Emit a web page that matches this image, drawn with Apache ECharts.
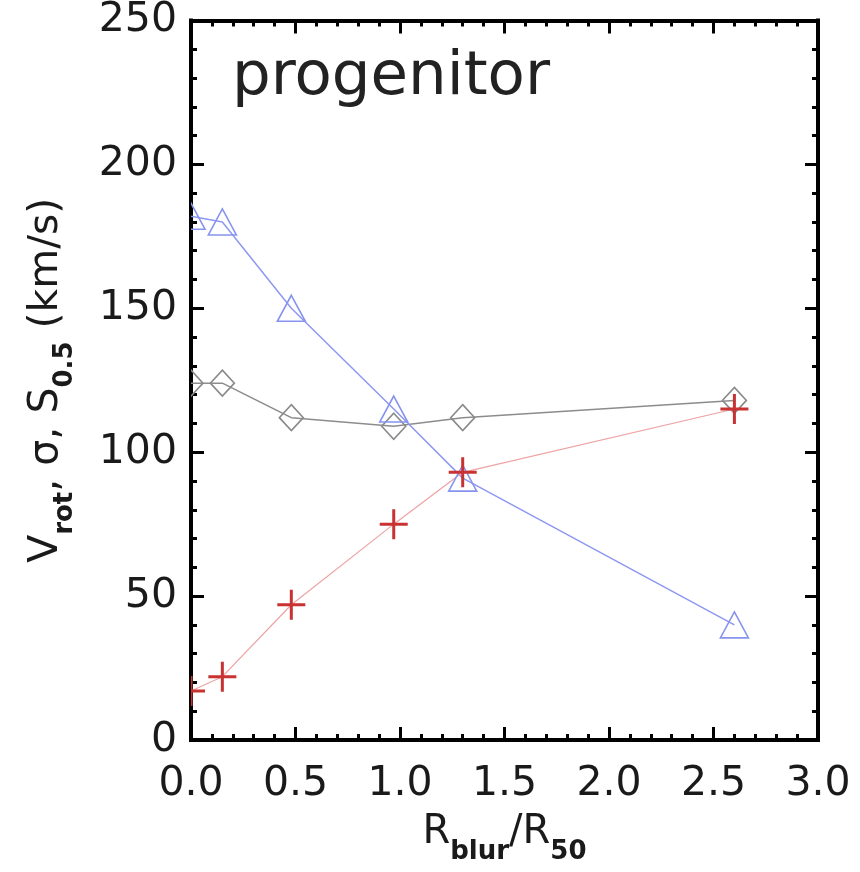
<!DOCTYPE html>
<html>
<head>
<meta charset="utf-8">
<script src="https://cdn.jsdelivr.net/npm/echarts@6/dist/echarts.min.js"></script>
<style>
  html, body { margin: 0; padding: 0; background: #fff; }
  #chart { width: 860px; height: 872px; }
</style>
</head>
<body>
<div id="chart"></div>
<script>
// ---- data ----
const xValues = [0.0, 0.15, 0.48, 0.97, 1.30, 2.60];
const triangleValues = [182, 180, 150, 115, 91, 40];   // blue triangles
const diamondValues = [124, 124, 112, 109, 112, 118];  // grey diamonds
const crossValues = [17, 22, 47, 75, 93, 115];         // red crosses
const xTicks = [0.0, 0.5, 1.0, 1.5, 2.0, 2.5, 3.0];
const yTicks = [0, 50, 100, 150, 200, 250];
const panelLabel = 'progenitor';

const pairs = (ys) => xValues.map((x, i) => [x, ys[i]]);
const FONT = 'DejaVu Sans';

const chart = echarts.init(document.getElementById('chart'), null, { renderer: 'canvas' });

const subStyle = { fontFamily: FONT, fontSize: 26, fontWeight: 'bold', color: '#1a1a1a', verticalAlign: 'bottom', lineHeight: 46, padding: [0, 0, -9, 0] };

function xAxisDef(pos, showLabel) {
  return {
    type: 'value', position: pos, min: xTicks[0], max: xTicks[xTicks.length - 1], interval: 0.5,
    axisLine: { show: true, onZero: false, lineStyle: { color: '#000', width: 4, cap: 'square' } },
    axisTick: { show: true, inside: true, length: 13, lineStyle: { color: '#000', width: 3 } },
    minorTick: { show: true, splitNumber: 5, length: 6, lineStyle: { color: '#000', width: 3 } },
    splitLine: { show: false }, minorSplitLine: { show: false },
    axisLabel: { show: showLabel, margin: 24, color: '#1a1a1a', fontFamily: FONT, fontSize: 41,
      formatter: (v) => v.toFixed(1) },
    name: showLabel ? 'R{sub|blur}/R{sub|50}' : '',
    nameLocation: 'middle', nameGap: 70,
    nameTextStyle: { color: '#1a1a1a', fontFamily: FONT, fontSize: 40, lineHeight: 46,
      rich: { sub: subStyle } }
  };
}
function yAxisDef(pos, showLabel) {
  return {
    type: 'value', position: pos, min: yTicks[0], max: yTicks[yTicks.length - 1], interval: 50,
    axisLine: { show: true, onZero: false, lineStyle: { color: '#000', width: 4, cap: 'square' } },
    axisTick: { show: true, inside: true, length: 13, lineStyle: { color: '#000', width: 3 } },
    minorTick: { show: true, splitNumber: 5, length: 6, lineStyle: { color: '#000', width: 3 } },
    splitLine: { show: false }, minorSplitLine: { show: false },
    axisLabel: { show: showLabel, margin: 14, color: '#1a1a1a', fontFamily: FONT, fontSize: 41 },
    name: showLabel ? 'V{sub|rot}, σ, S{sub|0.5} (km/s)' : '',
    nameLocation: 'middle', nameGap: 122, nameRotate: 90,
    nameTextStyle: { color: '#1a1a1a', fontFamily: FONT, fontSize: 41, lineHeight: 46,
      rich: { sub: subStyle } }
  };
}

// marker renderers (custom series, clipped to the plot frame)
function triangleItem(params, api) {
  const p = api.coord([api.value(0), api.value(1)]);
  const w = 14, h = 13;
  return { type: 'polygon', shape: { points: [[p[0], p[1] - h], [p[0] + w, p[1] + h], [p[0] - w, p[1] + h]] },
    style: { fill: 'none', stroke: '#8794ef', lineWidth: 1.6 } };
}
function diamondItem(params, api) {
  const p = api.coord([api.value(0), api.value(1)]);
  const w = 12, h = 13;
  return { type: 'polygon', shape: { points: [[p[0], p[1] - h], [p[0] + w, p[1]], [p[0], p[1] + h], [p[0] - w, p[1]]] },
    style: { fill: 'none', stroke: '#8a8a8a', lineWidth: 1.6 } };
}
function crossItem(params, api) {
  const p = api.coord([api.value(0), api.value(1)]);
  const w = 14, h = 15;
  return { type: 'group', children: [
    { type: 'line', shape: { x1: p[0] - w, y1: p[1], x2: p[0] + w, y2: p[1] }, style: { stroke: '#c83232', lineWidth: 3 } },
    { type: 'line', shape: { x1: p[0], y1: p[1] - h, x2: p[0], y2: p[1] + h }, style: { stroke: '#c83232', lineWidth: 3 } }
  ] };
}

const option = {
  backgroundColor: '#fff',
  animation: false,
  grid: { left: 191, right: 42, top: 17, bottom: 132, containLabel: false },
  xAxis: [xAxisDef('bottom', true), xAxisDef('top', false)],
  yAxis: [yAxisDef('left', true), yAxisDef('right', false)],
  series: [
    { type: 'line', data: pairs(diamondValues), z: 2, showSymbol: false, symbol: 'none',
      lineStyle: { color: '#8c8c8c', width: 1.5 } },
    { type: 'line', data: pairs(triangleValues), z: 2, showSymbol: false, symbol: 'none',
      lineStyle: { color: '#8d98f0', width: 1.5 } },
    { type: 'line', data: pairs(crossValues), z: 2, showSymbol: false, symbol: 'none',
      lineStyle: { color: '#eda3a3', width: 1.2 } },
    { type: 'custom', data: pairs(diamondValues), z: 3, clip: true, renderItem: diamondItem, encode: { x: 0, y: 1 } },
    { type: 'custom', data: pairs(triangleValues), z: 4, clip: true, renderItem: triangleItem, encode: { x: 0, y: 1 } },
    { type: 'custom', data: pairs(crossValues), z: 5, clip: true, renderItem: crossItem, encode: { x: 0, y: 1 } }
  ],
  graphic: {
    elements: [
      { type: 'text', silent: true, x: 232, y: 78,
        style: { text: panelLabel, fontFamily: FONT, fontSize: 61, fill: '#222', verticalAlign: 'middle', align: 'left' } }
    ]
  }
};
chart.setOption(option);
</script>
</body>
</html>
